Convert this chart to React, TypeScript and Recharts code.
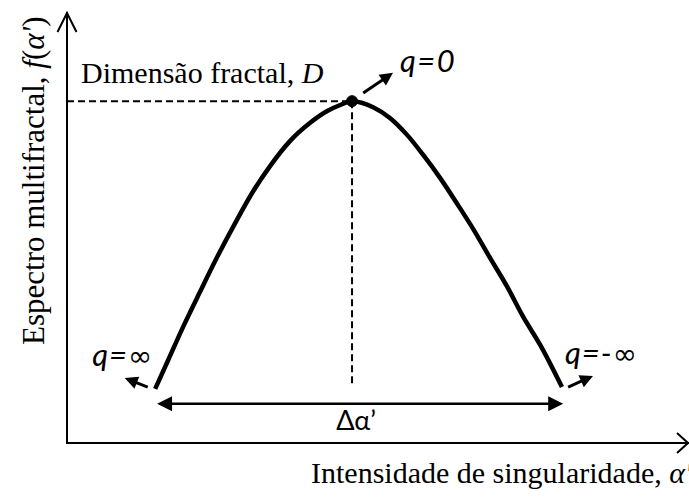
import React from 'react';
import { ComposedChart, Line, XAxis, YAxis, ReferenceLine, ReferenceDot } from 'recharts';

// Multifractal spectrum f(α') sampled along α'
const alphaValues = [1.42, 1.63, 1.87, 2.14, 2.42, 2.71, 3.0, 3.27, 3.59, 3.91, 4.19, 4.4, 4.59, 4.93, 5.2, 5.48, 5.73, 6.01, 6.28, 6.54, 6.81, 7.09, 7.34, 7.62, 7.97];
const fValues = [1.26, 1.93, 2.7, 3.51, 4.33, 5.12, 5.86, 6.44, 7.02, 7.44, 7.72, 7.86, 7.95, 7.81, 7.56, 7.16, 6.71, 6.16, 5.57, 4.98, 4.31, 3.63, 2.95, 2.28, 1.3];

// Peak of the spectrum (q = 0): fractal dimension D
const peakAlpha = 4.59;
const peakF = 7.95;
const peakDropTo = 1.35;

// Width of the spectrum, Δα'
const spanLevel = 0.91;
const spanStart = 1.45;
const spanEnd = 7.99;

// Direction arrows for the moments q
const qArrowFromX = [4.77, 1.3, 8.07];
const qArrowFromY = [8.14, 1.3, 1.3];
const qArrowToX = [5.25, 0.93, 8.47];
const qArrowToY = [8.61, 1.51, 1.56];

const axisDomain: [number, number] = [0, 10];

const curveData = alphaValues.map((a, i) => ({ a, f: fValues[i] }));

const SERIF = '"Liberation Serif", "Times New Roman", serif';
const SANS = 'Lato, "Open Sans", sans-serif';
const SYMBOL = '"DejaVu Sans", sans-serif';

function arrowHead(x1: number, y1: number, x2: number, y2: number, len: number, half: number) {
  const dx = x2 - x1;
  const dy = y2 - y1;
  const d = Math.hypot(dx, dy) || 1;
  const ux = dx / d;
  const uy = dy / d;
  const bx = x2 - ux * len;
  const by = y2 - uy * len;
  return `M${x2},${y2} L${bx - uy * half},${by + ux * half} L${bx + uy * half},${by - ux * half} Z`;
}

// Line with a filled arrow head at the end point
const SingleArrow = (p: any) => {
  const { x1, y1, x2, y2 } = p;
  const d = Math.hypot(x2 - x1, y2 - y1) || 1;
  const len = 13;
  const sx = x2 - ((x2 - x1) / d) * (len - 2);
  const sy = y2 - ((y2 - y1) / d) * (len - 2);
  return (
    <g>
      <line x1={x1} y1={y1} x2={sx} y2={sy} stroke="#000" strokeWidth={3} />
      <path d={arrowHead(x1, y1, x2, y2, len, 6.5)} fill="#000" />
    </g>
  );
};

// Line with filled arrow heads at both ends
const DoubleArrow = (p: any) => {
  const { x1, y1, x2, y2 } = p;
  return (
    <g>
      <line x1={x1 + 10} y1={y1} x2={x2 - 10} y2={y2} stroke="#000" strokeWidth={2.5} />
      <path d={arrowHead(x2, y2, x1, y1, 15, 7.5)} fill="#000" />
      <path d={arrowHead(x1, y1, x2, y2, 15, 7.5)} fill="#000" />
    </g>
  );
};

const YArrowTip = (p: any) => (
  <path d={`M${p.cx - 9.5},${p.cy + 19} L${p.cx},${p.cy} L${p.cx + 9.5},${p.cy + 19}`} fill="none" stroke="#000" strokeWidth={2} />
);
const XArrowTip = (p: any) => (
  <path d={`M${p.cx - 11},${p.cy - 10} L${p.cx},${p.cy} L${p.cx - 11},${p.cy + 10}`} fill="none" stroke="#000" strokeWidth={2} />
);

const textAt = (
  content: React.ReactNode,
  dx: number,
  dy: number,
  anchor: string,
  font: string,
  size: number,
  italic = false,
  spacing = 0
) =>
  (p: any) => (
    <text
      x={p.cx + dx}
      y={p.cy + dy}
      textAnchor={anchor as any}
      fontFamily={font}
      fontSize={size}
      fontStyle={italic ? 'italic' : 'normal'}
      letterSpacing={spacing}
      fill="#000"
    >
      {content}
    </text>
  );

const infinity = <tspan fontFamily={SYMBOL} fontSize={29} fontStyle="normal">∞</tspan>;

const XTitle = (p: any) => {
  const vb = p.viewBox;
  return (
    <text x={vb.x + 244} y={vb.y + 40} fontFamily={SERIF} fontSize={30} fill="#000">
      Intensidade de singularidade, <tspan fontStyle="italic">α'</tspan>
    </text>
  );
};

const YTitle = (p: any) => {
  const vb = p.viewBox;
  const x = vb.x + 44;
  const y = vb.y + 332;
  return (
    <text x={x} y={y} transform={`rotate(-90, ${x}, ${y})`} fontFamily={SERIF} fontSize={31} fill="#000">
      Espectro multifractal, <tspan fontStyle="italic">f</tspan>(<tspan fontStyle="italic">α'</tspan>)
    </text>
  );
};

export default function App() {
  return (
    <div style={{ position: 'absolute', left: 0, top: 0, background: '#fff' }}>
      <ComposedChart width={689} height={500} data={curveData} margin={{ top: 13, right: 1, bottom: 0, left: 0 }}>
        <XAxis
          type="number"
          dataKey="a"
          domain={axisDomain}
          allowDataOverflow
          tick={false}
          tickLine={false}
          height={57}
          axisLine={{ stroke: '#000', strokeWidth: 2, strokeLinecap: 'square' }}
          label={{ content: XTitle }}
        />
        <YAxis
          type="number"
          domain={axisDomain}
          allowDataOverflow
          tick={false}
          tickLine={false}
          width={67}
          axisLine={{ stroke: '#000', strokeWidth: 2, strokeLinecap: 'square' }}
          label={{ content: YTitle }}
        />
        <ReferenceDot x={0} y={10} r={0} ifOverflow="visible" shape={YArrowTip} />
        <ReferenceDot x={10} y={0} r={0} ifOverflow="visible" shape={XArrowTip} />

        <ReferenceLine
          segment={[{ x: 0, y: peakF }, { x: peakAlpha, y: peakF }]}
          stroke="#000"
          strokeWidth={2}
          strokeDasharray="7 4"
        />
        <ReferenceLine
          segment={[{ x: peakAlpha, y: peakF }, { x: peakAlpha, y: peakDropTo }]}
          stroke="#000"
          strokeWidth={2}
          strokeDasharray="7 4"
        />

        <Line
          type="monotone"
          dataKey="f"
          stroke="#000"
          strokeWidth={4.5}
          dot={false}
          activeDot={false}
          isAnimationActive={false}
        />

        <ReferenceDot x={peakAlpha} y={peakF} r={5.5} fill="#000" stroke="#000" />

        <ReferenceLine
          segment={[{ x: spanStart, y: spanLevel }, { x: spanEnd, y: spanLevel }]}
          shape={DoubleArrow}
        />
        {qArrowFromX.map((x, i) => (
          <ReferenceLine
            key={i}
            segment={[{ x, y: qArrowFromY[i] }, { x: qArrowToX[i], y: qArrowToY[i] }]}
            shape={SingleArrow}
          />
        ))}

        <ReferenceDot
          x={0}
          y={peakF}
          r={0}
          ifOverflow="visible"
          shape={textAt(<>Dimensão fractal, <tspan fontStyle="italic">D</tspan></>, 14, -18, 'start', SERIF, 30)}
        />
        <ReferenceDot x={qArrowToX[0]} y={qArrowToY[0]} r={0} ifOverflow="visible" shape={textAt('q=0', 7, -1, 'start', SANS, 31, true, 1.5)} />
        <ReferenceDot
          x={alphaValues[0]}
          y={fValues[0]}
          r={0}
          ifOverflow="visible"
          shape={textAt(<>q={infinity}</>, -2, -23, 'end', SANS, 31, true, 1)}
        />
        <ReferenceDot
          x={alphaValues[alphaValues.length - 1]}
          y={fValues[fValues.length - 1]}
          r={0}
          ifOverflow="visible"
          shape={textAt(<>q=-{infinity}</>, 3, -23, 'start', SANS, 31, true, 1)}
        />
        <ReferenceDot
          x={(spanStart + spanEnd) / 2}
          y={spanLevel}
          r={0}
          ifOverflow="visible"
          shape={textAt('Δα’', -4, 26, 'middle', SANS, 27)}
        />
      </ComposedChart>
    </div>
  );
}
